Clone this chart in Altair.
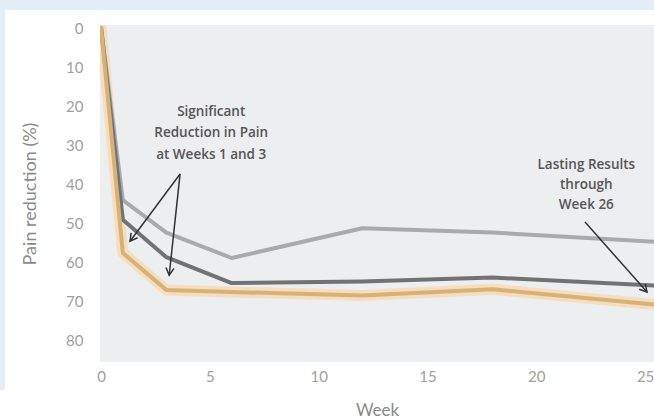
import altair as alt
import pandas as pd

# ---- data ----
weeks = [0, 1, 3, 6, 12, 18, 26]
orange_vals = [0, 57.5, 67.0, 67.5, 68.4, 66.8, 71.0]
dark_vals = [0, 49.0, 58.6, 65.2, 64.8, 63.8, 66.0]
light_vals = [0, 44.0, 52.3, 58.8, 51.2, 52.3, 54.8]

y_ticks = [0, 10, 20, 30, 40, 50, 60, 70, 80]
x_ticks = [0, 5, 10, 15, 20, 25]

# annotation text + arrows (data coordinates)
note1_lines = ["Significant", "Reduction in Pain", "at Weeks 1 and 3"]
note1_x = [5.06, 5.06, 5.06]
note1_y = [21.5, 26.9, 32.4]
note2_lines = ["Lasting Results", "through", "Week 26"]
note2_x = [22.3, 22.3, 22.3]
note2_y = [35.0, 40.2, 45.3]
arrow_x1 = [3.63, 3.63, 22.24]
arrow_y1 = [37.3, 37.3, 49.6]
arrow_x2 = [1.33, 3.13, 25.09]
arrow_y2 = [54.5, 63.2, 67.5]
arrow_angle = [36.7, 6.2, 318.5]

df = pd.DataFrame({"week": weeks, "orange": orange_vals, "dark": dark_vals, "light": light_vals})
notes = pd.DataFrame({"t": note1_lines + note2_lines, "x": note1_x + note2_x, "y": note1_y + note2_y})
arrows = pd.DataFrame({"x": arrow_x1, "y": arrow_y1, "x2": arrow_x2, "y2": arrow_y2, "a": arrow_angle})

W, H = 554, 337
xscale = alt.Scale(domain=[-0.05, 25.41], nice=False, zero=False)
yscale = alt.Scale(domain=[-0.8, 85.4], reverse=True, nice=False, zero=False)

xaxis = alt.Axis(values=x_ticks, title="Week", grid=False, domain=False, ticks=False,
                 labelFontSize=15, labelColor="#a0a0a0", labelPadding=7, labelFont="Lato",
                 titleFontSize=17, titleColor="#8a8a8a", titleFontWeight="normal", titleFont="Lato",
                 titlePadding=18)
yaxis = alt.Axis(values=y_ticks, title="Pain reduction (%)", grid=False, domain=False, ticks=False,
                 labelFontSize=15, labelColor="#a0a0a0", labelPadding=17, labelFont="Lato",
                 titleFontSize=18, titleColor="#8a8a8a", titleFontWeight="normal", titleFont="Lato",
                 titlePadding=26)

one = pd.DataFrame({"a": [0]})
frame_left = alt.Chart(one).mark_rect(color="#e4eef6").encode(
    x=alt.value(-100), x2=alt.value(-95), y=alt.value(-25), y2=alt.value(365))
frame_top = alt.Chart(one).mark_rect(color="#e4eef6").encode(
    x=alt.value(-100), x2=alt.value(W), y=alt.value(-25), y2=alt.value(-15))

base = alt.Chart(df)
def line(field, color, width):
    return base.mark_line(color=color, strokeWidth=width, clip=True, strokeJoin="round", strokeCap="round").encode(
        x=alt.X("week:Q", scale=xscale, axis=xaxis),
        y=alt.Y(f"{field}:Q", scale=yscale, axis=yaxis),
    )

halo = line("orange", "#f6dcc0", 11)
light = line("light", "#aaaaac", 4)
dark = line("dark", "#727274", 4)
core = line("orange", "#d6b274", 4)

arrow_lines = alt.Chart(arrows).mark_rule(color="#333333", strokeWidth=1.5).encode(
    x=alt.X("x:Q", scale=xscale), y=alt.Y("y:Q", scale=yscale),
    x2="x2:Q", y2="y2:Q")
arrow_heads = alt.Chart(arrows).mark_point(
    shape="M-0.5,-0.9L0,0L0.5,-0.9", filled=False, size=260, color="#333333", strokeWidth=1.5, opacity=1
).encode(
    x=alt.X("x2:Q", scale=xscale), y=alt.Y("y2:Q", scale=yscale), angle=alt.Angle("a:Q", scale=None))

texts = alt.Chart(notes).mark_text(font="Open Sans", fontSize=13.5, fontWeight=600, color="#555555",
                                   align="center", baseline="middle").encode(
    x=alt.X("x:Q", scale=xscale), y=alt.Y("y:Q", scale=yscale), text="t:N")

chart = alt.layer(frame_left, frame_top, halo, light, dark, core, arrow_lines, arrow_heads, texts).properties(
    width=W, height=H,
    autosize=alt.AutoSizeParams(type="none"),
    padding={"left": 100, "top": 25, "right": 0, "bottom": 58},
    background="white",
).configure_view(stroke=None, fill="#edeef0")

chart.save("out.html", embed_options={"renderer": "svg", "actions": False})
